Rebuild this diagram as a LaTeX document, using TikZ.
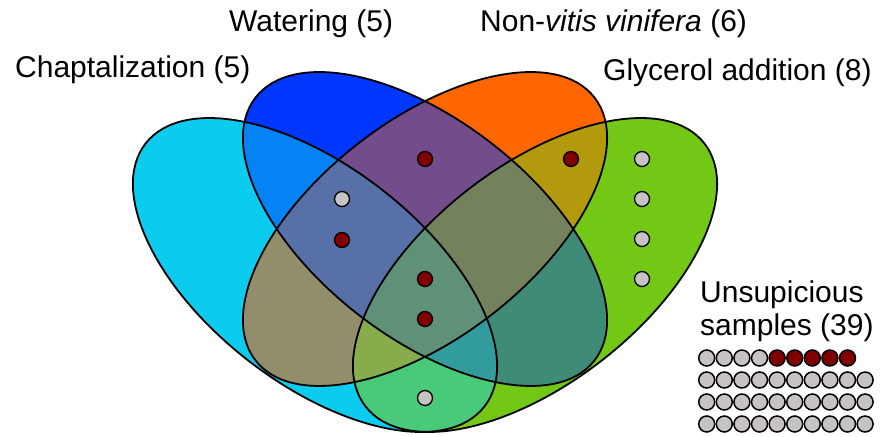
\documentclass[tikz,border=0pt]{standalone}
\usepackage{fontspec}
\setmainfont{Liberation Sans}
\definecolor{cC}{HTML}{0BCBEE}
\definecolor{cB}{HTML}{0037FF}
\definecolor{cO}{HTML}{FF6600}
\definecolor{cG}{HTML}{72C814}
\definecolor{cCB}{HTML}{0583F5}
\definecolor{cCO}{HTML}{928D6B}
\definecolor{cCG}{HTML}{48CA78}
\definecolor{cBO}{HTML}{734C8C}
\definecolor{cBG}{HTML}{3E8C78}
\definecolor{cOG}{HTML}{B39A0D}
\definecolor{cCBO}{HTML}{5870A8}
\definecolor{cCBG}{HTML}{329B9B}
\definecolor{cCOG}{HTML}{87AC4B}
\definecolor{cBOG}{HTML}{73825C}
\definecolor{cAll}{HTML}{5F9078}
\definecolor{dotred}{HTML}{800000}
\definecolor{dotgray}{HTML}{C8C3C3}
\def\shC{(315,161) ellipse [x radius=214.5pt, y radius=108.5pt]}
\def\shB{(425,207) ellipse [x radius=214.5pt, y radius=108.5pt]}
\def\shO{(425,207) ellipse [x radius=214.5pt, y radius=108.5pt]}
\def\shG{(535,161) ellipse [x radius=214.5pt, y radius=108.5pt]}
\tikzset{
  rC/.style={rotate around={-37.8:(315,161)}},
  rB/.style={rotate around={-37.8:(425,207)}},
  rO/.style={rotate around={37.8:(425,207)}},
  rG/.style={rotate around={37.8:(535,161)}},
  outline/.style={draw=black, line width=1.8pt},
  lbl/.style={anchor=base west, inner sep=0pt, font=\fontsize{30}{36}\selectfont},
  sdot/.style={circle, draw=black, line width=1.3pt, minimum size=15pt, inner sep=0pt},
  udot/.style={circle, draw=black, line width=1.5pt, minimum size=16pt, inner sep=0pt},
}
\begin{document}
\begin{tikzpicture}[x=1pt,y=1pt]
\useasboundingbox (0,0) rectangle (882,436);
% single sets
\fill[cC,rC] \shC;
\fill[cB,rB] \shB;
\fill[cO,rO] \shO;
\fill[cG,rG] \shG;
% pairs
\begin{scope}\clip[rC] \shC; \fill[cCB,rB] \shB; \end{scope}
\begin{scope}\clip[rC] \shC; \fill[cCO,rO] \shO; \end{scope}
\begin{scope}\clip[rC] \shC; \fill[cCG,rG] \shG; \end{scope}
\begin{scope}\clip[rB] \shB; \fill[cBO,rO] \shO; \end{scope}
\begin{scope}\clip[rB] \shB; \fill[cBG,rG] \shG; \end{scope}
\begin{scope}\clip[rO] \shO; \fill[cOG,rG] \shG; \end{scope}
% triples
\begin{scope}\clip[rC] \shC; \clip[rB] \shB; \fill[cCBO,rO] \shO; \end{scope}
\begin{scope}\clip[rC] \shC; \clip[rB] \shB; \fill[cCBG,rG] \shG; \end{scope}
\begin{scope}\clip[rC] \shC; \clip[rO] \shO; \fill[cCOG,rG] \shG; \end{scope}
\begin{scope}\clip[rB] \shB; \clip[rO] \shO; \fill[cBOG,rG] \shG; \end{scope}
% all four
\begin{scope}\clip[rC] \shC; \clip[rB] \shB; \clip[rO] \shO; \fill[cAll,rG] \shG; \end{scope}
% outlines
\draw[outline,rC] \shC;
\draw[outline,rB] \shB;
\draw[outline,rO] \shO;
\draw[outline,rG] \shG;
% dots in the diagram
\node[sdot, fill=dotred]  (d1) at (425,277) {};
\node[sdot, fill=dotred]  (d2) at (571,277) {};
\node[sdot, fill=dotgray] (d3) at (642,277) {};
\node[sdot, fill=dotgray] (d4) at (642,237) {};
\node[sdot, fill=dotgray] (d5) at (642,197) {};
\node[sdot, fill=dotgray] (d6) at (642,157) {};
\node[sdot, fill=dotgray] (d7) at (342,237) {};
\node[sdot, fill=dotred]  (d8) at (342,196) {};
\node[sdot, fill=dotred]  (d9) at (425,157) {};
\node[sdot, fill=dotred]  (d10) at (425,117) {};
\node[sdot, fill=dotgray] (d11) at (425,38) {};
% labels
\node[lbl] (tC) at (15,358) {Chaptalization (5)};
\node[lbl] (tB) at (229,404) {Watering (5)};
\node[lbl] (tO) at (480,404) {Non-\textit{vitis vinifera} (6)};
\node[lbl] (tG) at (603,355) {Glycerol addition (8)};
\node[lbl] (tU1) at (700,133) {Unsupicious};
\node[lbl] (tU2) at (700,100) {samples (39)};
% unsuspicious samples grid
\foreach \i in {0,...,3} \node[udot, fill=dotgray] (ua\i) at (706.7+17.6*\i,78) {};
\foreach \i in {4,...,8} \node[udot, fill=dotred] (ua\i) at (706.7+17.6*\i,78) {};
\foreach \i in {0,...,9} \node[udot, fill=dotgray] (ub\i) at (706.7+17.6*\i,56) {};
\foreach \i in {0,...,9} \node[udot, fill=dotgray] (uc\i) at (706.7+17.6*\i,34) {};
\foreach \i in {0,...,9} \node[udot, fill=dotgray] (ud\i) at (706.7+17.6*\i,12) {};
\end{tikzpicture}
\end{document}
